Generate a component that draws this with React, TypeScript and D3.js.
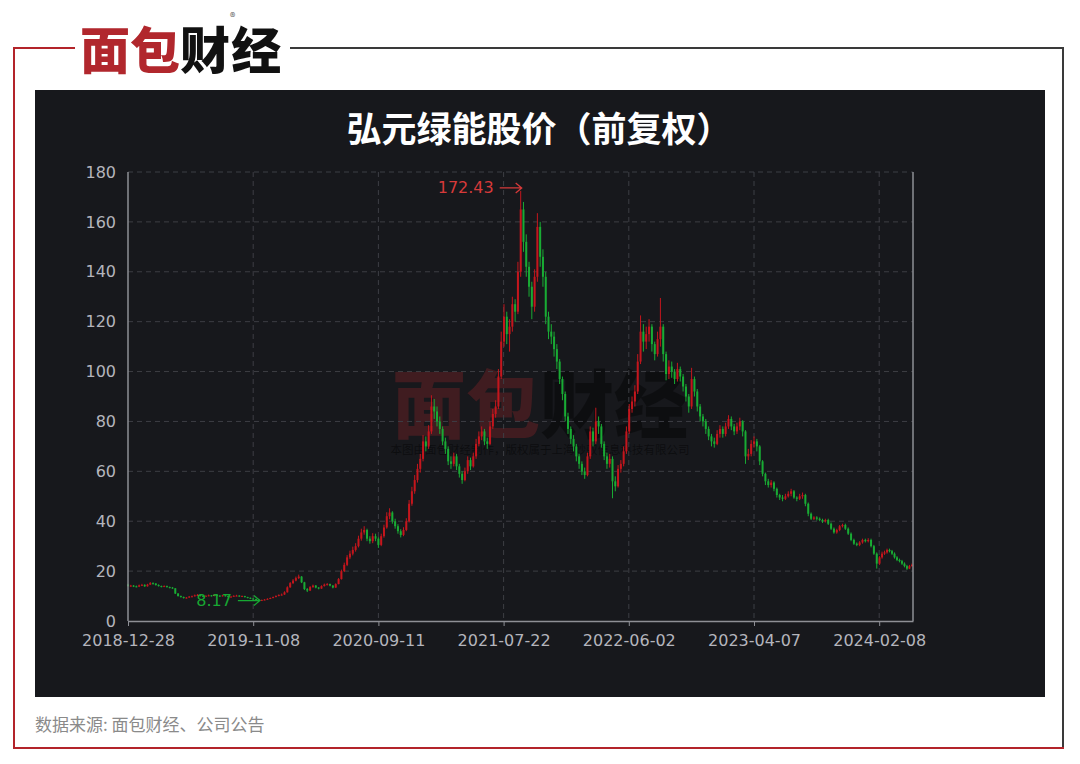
import React, { useRef, useEffect } from 'react';
import * as d3 from 'd3';

// weekly candles, Friday of each week, 2018-12-28 .. 2024-05-10
const firstWeek = new Date(2018, 11, 28);
const lastWeek = new Date(2024, 4, 10);
const axisEnd = new Date(2024, 4, 13);

const xTickLabels = ['2018-12-28', '2019-11-08', '2020-09-11', '2021-07-22', '2022-06-02', '2023-04-07', '2024-02-08'];
const yTicks = [0, 20, 40, 60, 80, 100, 120, 140, 160, 180];

const title = '弘元绿能股价（前复权）';
const sourceNote = '数据来源: 面包财经、公司公告';
const brandText = '面包财经';
const watermarkNote = '本图由面包财经制作，版权属于上海妙驭信息科技有限公司';

// [open, close, low, high]
const candles: [number, number, number, number][] = [
  [14.6, 14.0, 13.8, 14.9], [14.0, 14.2, 13.7, 14.5], [14.2, 13.9, 13.6, 14.4], [13.9, 13.8, 13.5, 14.2], [13.8, 14.3, 13.6, 14.6],
  [14.3, 14.5, 14.0, 14.9], [14.5, 13.9, 13.7, 14.7], [13.9, 14.6, 13.8, 14.9], [14.6, 15.2, 14.4, 15.6], [15.2, 15.0, 14.6, 15.5],
  [15.0, 14.4, 14.2, 15.2], [14.4, 14.0, 13.8, 14.7], [14.0, 13.8, 13.5, 14.2], [13.8, 14.0, 13.6, 14.3], [14.0, 13.6, 13.4, 14.2],
  [13.6, 13.4, 13.1, 13.8], [13.4, 13.1, 12.9, 13.6], [13.1, 11.0, 10.8, 13.2], [11.0, 10.0, 9.8, 11.2], [10.0, 9.6, 9.4, 10.2],
  [9.6, 9.2, 9.0, 9.8], [9.2, 9.4, 9.0, 9.6], [9.4, 9.8, 9.3, 10.0], [9.8, 9.9, 9.6, 10.2], [9.9, 10.3, 9.8, 10.6],
  [10.3, 10.5, 10.1, 10.8], [10.5, 10.0, 9.8, 10.6], [10.0, 9.8, 9.6, 10.2], [9.8, 10.1, 9.7, 10.3], [10.1, 10.3, 9.9, 10.6],
  [10.3, 10.0, 9.8, 10.4], [10.0, 10.4, 9.9, 10.7], [10.4, 10.2, 10.0, 10.6], [10.2, 9.9, 9.7, 10.3], [9.9, 10.3, 9.8, 10.5],
  [10.3, 10.0, 9.8, 10.4], [10.0, 9.6, 9.5, 10.1], [9.6, 9.8, 9.4, 10.0], [9.8, 10.1, 9.7, 10.3], [10.1, 10.2, 9.9, 10.5],
  [10.2, 9.9, 9.7, 10.3], [9.9, 10.0, 9.7, 10.2], [10.0, 9.6, 9.4, 10.1], [9.6, 9.3, 9.1, 9.7], [9.3, 9.0, 8.8, 9.4],
  [9.0, 8.8, 8.6, 9.1], [8.8, 8.5, 8.3, 8.9], [8.5, 8.3, 8.17, 8.6], [8.3, 8.4, 8.2, 8.6], [8.4, 8.6, 8.3, 8.8],
  [8.6, 8.9, 8.5, 9.1], [8.9, 9.2, 8.8, 9.4], [9.2, 9.6, 9.1, 9.8], [9.6, 10.0, 9.5, 10.3], [10.0, 10.4, 9.9, 10.7],
  [10.4, 10.6, 10.2, 11.0], [10.6, 11.5, 10.5, 11.9], [11.5, 13.5, 11.4, 13.9], [13.5, 15.2, 13.3, 15.6], [15.2, 16.2, 14.8, 16.8],
  [16.2, 17.2, 15.9, 17.8], [17.2, 17.8, 16.8, 18.6], [17.8, 15.5, 15.2, 18.0], [15.5, 12.8, 12.4, 15.7], [12.8, 12.2, 11.6, 13.2],
  [12.2, 13.6, 12.0, 14.0], [13.6, 14.2, 13.3, 14.6], [14.2, 13.4, 13.1, 14.4], [13.4, 13.0, 12.7, 13.6], [13.0, 14.0, 12.9, 14.3],
  [14.0, 14.6, 13.8, 15.0], [14.6, 14.8, 14.2, 15.2], [14.8, 14.2, 13.9, 15.0], [14.2, 13.4, 13.1, 14.4], [13.4, 14.8, 13.3, 15.1],
  [14.8, 16.8, 14.7, 17.2], [16.8, 20.0, 16.6, 20.6], [20.0, 22.5, 19.6, 23.4], [22.5, 25.5, 22.0, 26.4], [25.5, 27.0, 24.8, 28.2],
  [27.0, 28.5, 26.3, 29.8], [28.5, 30.0, 27.8, 31.2], [30.0, 33.0, 29.5, 34.2], [33.0, 35.5, 32.2, 37.0], [35.5, 36.5, 34.6, 38.0],
  [36.5, 33.0, 32.0, 37.0], [33.0, 32.0, 31.0, 34.0], [32.0, 34.0, 31.2, 35.2], [34.0, 33.0, 32.0, 35.0], [33.0, 30.5, 29.3, 33.6],
  [30.5, 34.0, 30.0, 35.0], [34.0, 37.5, 33.4, 38.6], [37.5, 42.0, 37.0, 43.6], [42.0, 43.5, 40.8, 45.2], [43.5, 40.0, 39.0, 44.0],
  [40.0, 38.0, 37.0, 41.0], [38.0, 36.0, 35.0, 38.8], [36.0, 34.5, 33.5, 36.8], [34.5, 36.5, 34.0, 37.6], [36.5, 40.0, 36.0, 41.2],
  [40.0, 47.0, 39.5, 48.5], [47.0, 52.0, 46.2, 53.8], [52.0, 56.5, 51.0, 58.5], [56.5, 61.0, 55.5, 63.0], [61.0, 65.0, 59.5, 67.0],
  [65.0, 72.0, 64.0, 74.5], [72.0, 70.0, 68.0, 74.0], [70.0, 76.0, 69.0, 78.5], [76.0, 86.0, 75.0, 90.5], [86.0, 84.0, 81.0, 89.0],
  [84.0, 80.0, 78.0, 86.0], [80.0, 77.0, 75.0, 82.0], [77.0, 72.0, 70.5, 78.0], [72.0, 69.0, 67.0, 73.5], [69.0, 64.0, 62.5, 70.0],
  [64.0, 63.0, 61.0, 66.0], [63.0, 66.0, 62.0, 67.5], [66.0, 62.0, 60.5, 67.0], [62.0, 59.0, 57.5, 63.0], [59.0, 56.5, 55.0, 60.0],
  [56.5, 60.0, 56.0, 61.5], [60.0, 64.5, 59.0, 66.0], [64.5, 62.0, 60.5, 65.5], [62.0, 66.0, 61.5, 67.5], [66.0, 71.0, 65.0, 73.0],
  [71.0, 74.0, 70.0, 76.0], [74.0, 76.0, 72.5, 78.0], [76.0, 72.0, 70.5, 77.0], [72.0, 71.0, 69.0, 73.5], [71.0, 78.0, 70.5, 80.0],
  [78.0, 83.0, 77.0, 85.0], [83.0, 86.0, 81.5, 88.5], [86.0, 98.0, 85.0, 101.0], [98.0, 112.0, 97.0, 116.0], [112.0, 122.0, 110.0, 127.0],
  [122.0, 115.0, 111.0, 124.0], [115.0, 118.0, 108.0, 121.0], [118.0, 127.0, 116.0, 130.0], [127.0, 124.0, 120.0, 129.0], [124.0, 140.0, 123.0, 144.0],
  [140.0, 165.0, 138.0, 172.43], [165.0, 152.0, 148.0, 168.0], [152.0, 142.0, 138.0, 155.0], [142.0, 134.0, 130.0, 144.0], [134.0, 126.0, 121.0, 136.0],
  [126.0, 138.0, 124.0, 141.0], [138.0, 158.0, 136.0, 163.5], [158.0, 146.0, 142.0, 160.0], [146.0, 138.0, 134.0, 149.0], [138.0, 122.0, 119.0, 140.0],
  [122.0, 116.0, 113.0, 124.0], [116.0, 114.0, 111.0, 119.0], [114.0, 109.0, 106.0, 116.0], [109.0, 104.0, 101.0, 111.0], [104.0, 97.0, 95.0, 105.0],
  [97.0, 91.0, 88.5, 98.0], [91.0, 82.0, 80.0, 92.0], [82.0, 77.0, 75.0, 83.5], [77.0, 73.0, 71.0, 78.0], [73.0, 70.0, 68.0, 74.5],
  [70.0, 66.0, 64.0, 71.0], [66.0, 63.0, 61.0, 67.0], [63.0, 60.0, 58.5, 64.0], [60.0, 58.5, 57.0, 61.5], [58.5, 66.0, 58.0, 67.5],
  [66.0, 76.0, 65.0, 78.0], [76.0, 72.0, 70.0, 77.5], [72.0, 80.0, 71.0, 85.5], [80.0, 78.0, 75.0, 82.0], [78.0, 71.0, 69.5, 79.0],
  [71.0, 66.0, 64.5, 72.0], [66.0, 63.0, 61.0, 67.5], [63.0, 65.0, 61.5, 67.0], [65.0, 56.0, 49.2, 66.0], [56.0, 54.0, 52.0, 58.0],
  [54.0, 61.0, 53.5, 62.5], [61.0, 63.0, 59.5, 64.5], [63.0, 68.0, 62.0, 70.0], [68.0, 76.0, 67.0, 78.0], [76.0, 85.0, 75.0, 87.0],
  [85.0, 88.0, 83.5, 90.0], [88.0, 92.0, 86.0, 94.5], [92.0, 104.0, 91.0, 107.0], [104.0, 116.0, 103.0, 122.5], [116.0, 112.0, 108.0, 119.0],
  [112.0, 115.0, 109.0, 118.0], [115.0, 118.0, 112.0, 121.0], [118.0, 111.0, 108.0, 119.0], [111.0, 107.0, 104.5, 112.0], [107.0, 113.0, 106.0, 116.0],
  [113.0, 118.0, 110.0, 129.5], [118.0, 107.0, 104.0, 119.0], [107.0, 99.0, 96.5, 108.0], [99.0, 102.0, 97.0, 104.5], [102.0, 100.0, 97.5, 104.0],
  [100.0, 97.0, 95.0, 101.0], [97.0, 101.0, 96.0, 103.5], [101.0, 98.0, 96.0, 102.0], [98.0, 94.0, 92.0, 99.0], [94.0, 90.0, 88.0, 95.0],
  [90.0, 86.0, 83.5, 91.0], [86.0, 97.0, 85.0, 101.5], [97.0, 92.0, 90.0, 98.0], [92.0, 86.0, 84.0, 93.0], [86.0, 82.0, 80.0, 87.0],
  [82.0, 80.0, 78.0, 83.0], [80.0, 77.0, 75.0, 81.0], [77.0, 74.0, 72.5, 78.0], [74.0, 72.0, 70.0, 75.0], [72.0, 71.0, 69.5, 73.5],
  [71.0, 75.0, 70.5, 76.5], [75.0, 77.0, 73.5, 78.5], [77.0, 75.0, 73.5, 78.0], [75.0, 78.0, 74.0, 79.5], [78.0, 81.0, 77.0, 82.5],
  [81.0, 78.0, 76.5, 82.0], [78.0, 76.0, 74.5, 79.0], [76.0, 78.0, 75.0, 79.5], [78.0, 80.0, 76.5, 81.5], [80.0, 76.0, 74.0, 80.5],
  [76.0, 66.0, 63.0, 76.5], [66.0, 67.0, 64.5, 69.0], [67.0, 71.0, 66.0, 72.5], [71.0, 72.0, 69.5, 74.0], [72.0, 70.0, 68.0, 73.0],
  [70.0, 64.0, 62.5, 70.5], [64.0, 59.0, 58.0, 64.5], [59.0, 56.0, 54.5, 59.5], [56.0, 54.5, 53.5, 57.0], [54.5, 55.5, 53.5, 56.5],
  [55.5, 53.0, 52.0, 56.0], [53.0, 50.5, 49.5, 53.5], [50.5, 49.5, 48.5, 51.0], [49.5, 49.0, 48.0, 50.5], [49.0, 50.0, 48.5, 51.0],
  [50.0, 51.0, 49.5, 52.0], [51.0, 52.0, 50.0, 53.0], [52.0, 49.5, 49.0, 52.5], [49.5, 49.0, 48.0, 50.0], [49.0, 50.0, 48.5, 51.0],
  [50.0, 50.5, 49.0, 51.5], [50.5, 47.0, 46.0, 51.0], [47.0, 43.0, 42.0, 47.5], [43.0, 41.0, 40.5, 43.5], [41.0, 41.5, 40.5, 42.0],
  [41.5, 41.0, 40.3, 42.0], [41.0, 40.5, 40.0, 41.5], [40.5, 40.0, 39.3, 41.0], [40.0, 40.5, 39.5, 41.0], [40.5, 39.0, 38.5, 41.0],
  [39.0, 37.0, 36.5, 39.5], [37.0, 35.5, 35.0, 37.5], [35.5, 36.5, 35.0, 37.0], [36.5, 38.0, 36.0, 38.5], [38.0, 38.5, 37.5, 39.0],
  [38.5, 37.0, 36.5, 39.0], [37.0, 35.0, 34.5, 37.5], [35.0, 32.5, 32.0, 35.5], [32.5, 31.0, 30.5, 33.0], [31.0, 30.5, 30.0, 31.5],
  [30.5, 31.5, 30.0, 32.0], [31.5, 32.5, 31.0, 33.0], [32.5, 32.0, 31.5, 33.0], [32.0, 32.5, 31.5, 33.2], [32.5, 30.0, 29.5, 33.0],
  [30.0, 27.0, 26.5, 30.5], [27.0, 23.0, 21.0, 27.5], [23.0, 25.5, 22.5, 26.0], [25.5, 27.0, 25.0, 27.8], [27.0, 27.5, 26.5, 28.2],
  [27.5, 28.5, 27.0, 29.0], [28.5, 28.0, 27.5, 29.0], [28.0, 27.0, 26.5, 28.5], [27.0, 25.5, 25.0, 27.5], [25.5, 24.5, 24.0, 26.0],
  [24.5, 24.0, 23.5, 25.0], [24.0, 23.0, 22.5, 24.5], [23.0, 22.0, 21.5, 23.5], [22.0, 21.0, 20.5, 22.5], [21.0, 22.0, 20.8, 22.5],
  [22.0, 22.5, 21.8, 23.0],
];

const UP = '#c4161d';
const DOWN = '#19ab34';
const CJK = '"Noto Sans CJK SC", "Noto Sans", sans-serif';
const NUM = '"DejaVu Sans", "Noto Sans", sans-serif';

const App: React.FC = () => {
  const svgRef = useRef<SVGSVGElement>(null);

  useEffect(() => {
    if (!svgRef.current) return;
    document.body.style.margin = '0';

    const svg = d3.select(svgRef.current);
    svg.selectAll('*').remove();

    const W = 1080, H = 764;
    const plot = { left: 128, right: 913, top: 172, bottom: 621 };
    const tickStep = 125.2;

    svg.attr('width', W).attr('height', H).style('display', 'block');
    svg.append('rect').attr('width', W).attr('height', H).attr('fill', '#ffffff');

    // outer frame
    svg.append('path')
      .attr('d', `M75,48 H14 V748 H1064`)
      .attr('fill', 'none').attr('stroke', '#b3242a').attr('stroke-width', 2);
    svg.append('path')
      .attr('d', `M290,48 H1063 V747`)
      .attr('fill', 'none').attr('stroke', '#3a3a3a').attr('stroke-width', 2);

    // brand logo (® rides above the last glyph)
    const logo = svg.append('text')
      .attr('x', 80).attr('y', 69)
      .style('font-family', CJK).style('font-size', '50px').style('font-weight', 900);
    logo.append('tspan').attr('fill', '#b1272d').text(brandText.slice(0, 2));
    logo.append('tspan').attr('fill', '#111111').text(brandText.slice(2, 3));
    logo.append('tspan').attr('fill', '#555555').attr('dy', -48).attr('dx', 0)
      .style('font-size', '11px').style('font-weight', 400).text('®');
    logo.append('tspan').attr('fill', '#111111').attr('dy', 48).attr('dx', -4)
      .text(brandText.slice(3));

    // dark panel
    svg.append('rect')
      .attr('x', 35).attr('y', 90).attr('width', 1010).attr('height', 607)
      .attr('fill', '#17181c');

    svg.append('text')
      .attr('x', 539).attr('y', 142).attr('text-anchor', 'middle')
      .style('font-family', CJK).style('font-size', '35px').style('font-weight', 700)
      .attr('fill', '#ffffff')
      .text(title);

    // scales
    const parse = d3.timeParse('%Y-%m-%d');
    const tickDates = xTickLabels.map(s => parse(s) as Date);
    const xScale = d3.scaleTime()
      .domain([...tickDates, axisEnd])
      .range([...tickDates.map((_, i) => plot.left + i * tickStep), plot.right]);
    const yScale = d3.scaleLinear().domain([0, 180]).range([plot.bottom, plot.top]);

    const weeks = d3.timeFriday.range(firstWeek, d3.timeDay.offset(lastWeek, 1));
    const data = weeks.map((date, i) => {
      const [open, close, low, high] = candles[i];
      return { date, open, close, low, high };
    });

    // watermark
    const wm = svg.append('text')
      .attr('x', 392).attr('y', 432)
      .style('font-family', CJK).style('font-size', '74px').style('font-weight', 900);
    wm.append('tspan').attr('fill', '#b1272d').attr('fill-opacity', 0.27).text(brandText.slice(0, 2));
    wm.append('tspan').attr('fill', '#000000').attr('fill-opacity', 0.4).text(brandText.slice(2));
    wm.append('tspan')
      .attr('x', 540).attr('dy', 22).attr('text-anchor', 'middle')
      .style('font-size', '11.5px').style('font-weight', 400)
      .attr('fill', '#000000').attr('fill-opacity', 0.45)
      .text(watermarkNote);

    // grid
    const g = svg.append('g');
    g.selectAll('.hgrid')
      .data(yTicks.filter(t => t > 0))
      .join('line')
      .attr('x1', plot.left).attr('x2', plot.right)
      .attr('y1', d => yScale(d)).attr('y2', d => yScale(d))
      .attr('stroke', '#3d3e44').attr('stroke-width', 1).attr('stroke-dasharray', '5,4');
    g.selectAll('.vgrid')
      .data(tickDates.slice(1))
      .join('line')
      .attr('x1', d => xScale(d)).attr('x2', d => xScale(d))
      .attr('y1', plot.top).attr('y2', plot.bottom)
      .attr('stroke', '#3d3e44').attr('stroke-width', 1).attr('stroke-dasharray', '5,4');

    // candles
    const cw = 2;
    const cg = g.append('g');
    cg.selectAll('line.wick')
      .data(data)
      .join('line')
      .attr('class', 'wick')
      .attr('x1', d => xScale(d.date)).attr('x2', d => xScale(d.date))
      .attr('y1', d => yScale(d.high)).attr('y2', d => yScale(d.low))
      .attr('stroke', d => (d.close >= d.open ? UP : DOWN))
      .attr('stroke-width', 1);
    cg.selectAll('rect.body')
      .data(data)
      .join('rect')
      .attr('class', 'body')
      .attr('x', d => xScale(d.date) - cw / 2)
      .attr('width', cw)
      .attr('y', d => yScale(Math.max(d.open, d.close)))
      .attr('height', d => Math.max(1, Math.abs(yScale(d.open) - yScale(d.close))))
      .attr('fill', d => (d.close >= d.open ? UP : DOWN));

    // axes
    const axisColor = '#8e8f95';
    g.append('line')
      .attr('x1', plot.left).attr('x2', plot.left).attr('y1', plot.top).attr('y2', plot.bottom)
      .attr('stroke', axisColor).attr('stroke-width', 1.5);
    g.append('line')
      .attr('x1', plot.right).attr('x2', plot.right).attr('y1', plot.top).attr('y2', plot.bottom)
      .attr('stroke', axisColor).attr('stroke-width', 1.5);

    const xAxis = g.append('g')
      .attr('transform', `translate(0,${plot.bottom})`)
      .call(d3.axisBottom(xScale).tickValues(tickDates).tickSize(5).tickSizeOuter(0)
        .tickFormat((_, i) => xTickLabels[i]));
    xAxis.select('.domain').attr('stroke', axisColor).attr('stroke-width', 1.5);
    xAxis.selectAll('.tick line').attr('stroke', axisColor);
    xAxis.selectAll('.tick text')
      .attr('fill', '#b4b5bc').attr('dy', '0').attr('y', 25)
      .style('font-family', NUM).style('font-size', '16px');

    const yAxis = g.append('g')
      .attr('transform', `translate(${plot.left},0)`)
      .call(d3.axisLeft(yScale).tickValues(yTicks).tickSize(0).tickPadding(12));
    yAxis.select('.domain').remove();
    yAxis.selectAll('.tick text')
      .attr('fill', '#b4b5bc')
      .style('font-family', NUM).style('font-size', '16px');

    // max / min markers
    const maxD = data.reduce((a, b) => (b.high > a.high ? b : a));
    const minD = data.reduce((a, b) => (b.low < a.low ? b : a));
    const markers = [
      { d: maxD, v: maxD.high, color: '#d63a3a', dy: -3 },
      { d: minD, v: minD.low, color: '#17a832', dy: 0 },
    ];
    markers.forEach(m => {
      const px = xScale(m.d.date) + 2;
      const py = yScale(m.v) + m.dy;
      const mk = g.append('g').attr('transform', `translate(${px},${py})`);
      mk.append('path')
        .attr('d', 'M-23,0 H-1 M-7,-5 L-1,0 L-7,5')
        .attr('fill', 'none').attr('stroke', m.color).attr('stroke-width', 1.3);
      mk.append('text')
        .attr('x', -29).attr('y', 0).attr('dy', '0.35em').attr('text-anchor', 'end')
        .style('font-family', NUM).style('font-size', '16px')
        .attr('fill', m.color)
        .text(d3.format('.2f')(m.v).replace(/0+$/, '').replace(/\.$/, ''));
    });

    // source
    svg.append('text')
      .attr('x', 35).attr('y', 731)
      .style('font-family', CJK).style('font-size', '17px')
      .attr('fill', '#8a8a8a')
      .text(sourceNote);
  }, []);

  return <svg ref={svgRef}></svg>;
};

export default App;
